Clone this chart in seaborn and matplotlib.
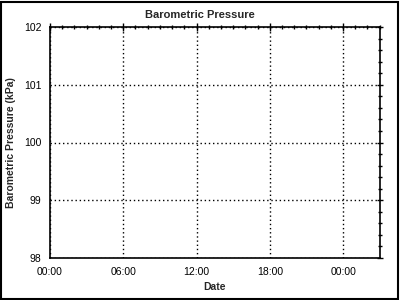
import matplotlib
matplotlib.use("Agg")
import matplotlib.pyplot as plt
from matplotlib.patches import Rectangle
from matplotlib.ticker import FixedLocator, MultipleLocator
import seaborn as sns
import pandas as pd

# Data (chart is empty: no recorded samples)
hours = []          # hours since 00:00
pressure = []       # kPa
x_ticks = [0, 6, 12, 18, 24]
x_tick_labels = ["00:00", "06:00", "12:00", "18:00", "00:00"]
y_ticks = [98, 99, 100, 101, 102]
x_range = (0, 27)
y_range = (98, 102)

sns.set_style("white")
plt.rcParams['font.family'] = ['Liberation Sans', 'DejaVu Sans']

fig = plt.figure(figsize=(4, 3), dpi=100)
ax = fig.add_axes([50/400, 42/300, 329.7/400, 231/300])

df = pd.DataFrame({"hours": pd.Series(hours, dtype=float),
                   "pressure": pd.Series(pressure, dtype=float)})
sns.lineplot(data=df, x="hours", y="pressure", ax=ax, color="black")

ax.set_xlim(*x_range)
ax.set_ylim(*y_range)
ax.xaxis.set_major_locator(FixedLocator(x_ticks))
ax.set_xticklabels(x_tick_labels)
ax.xaxis.set_minor_locator(MultipleLocator(1))
ax.yaxis.set_major_locator(FixedLocator(y_ticks))
ax.set_yticklabels([str(v) for v in y_ticks])
ax.yaxis.set_minor_locator(MultipleLocator(0.2))

for s in ax.spines.values():
    s.set_visible(True)
    s.set_color("black")
    s.set_linewidth(1.2)

ax.tick_params(axis="both", which="both", colors="black", labelsize=7.5, width=1)
ax.tick_params(axis="x", which="major", direction="inout", length=5.5, pad=3.5,
               top=True, labeltop=False)
ax.tick_params(axis="x", which="minor", direction="inout", length=3.5, top=True)
ax.tick_params(axis="y", which="major", direction="inout", length=5, pad=3.5,
               right=True, labelright=False)
ax.tick_params(axis="y", which="minor", direction="inout", length=3.5, right=True)

ax.grid(True, which="major", color="black", linestyle=(0, (1, 2)), linewidth=1)

fig.text(0.5, 1 - 15/300, "Barometric Pressure", ha="center", va="center",
         fontsize=8, fontweight="bold")
ax.set_xlabel("Date", fontsize=7.5, fontweight="bold", labelpad=4)
ax.set_ylabel("Barometric Pressure (kPa)", fontsize=7.5, fontweight="bold")
ax.yaxis.set_label_coords(-(50 - 16) / 329.7, 0.5)

fig.patches.append(Rectangle((0.003, 0.004), 0.992, 0.99, transform=fig.transFigure,
                             fill=False, edgecolor="black", linewidth=1.5))

fig.savefig("out.png", dpi=100)
